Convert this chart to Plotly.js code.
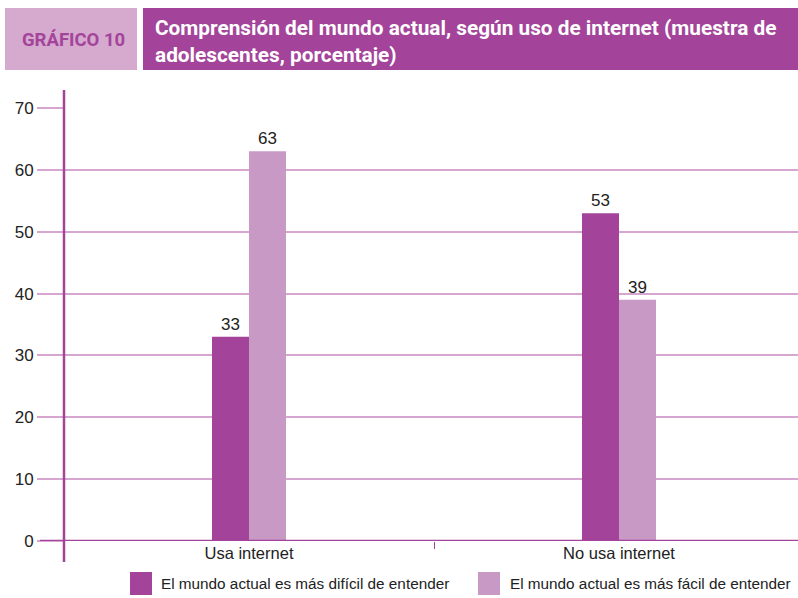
<!DOCTYPE html>
<html>
<head>
<meta charset="utf-8">
<script src="https://cdn.plot.ly/plotly-3.0.1.min.js"></script>
<style>html,body{margin:0;padding:0;background:#fff;}#chart{width:798px;height:598px;}</style>
</head>
<body>
<div id="chart"></div>
<script>
var categories = ["Usa internet", "No usa internet"];
var seriesNames = ["El mundo actual es más difícil de entender", "El mundo actual es más fácil de entender"];
var dificil = [33, 53];
var facil = [63, 39];
var yTicks = [0, 10, 20, 30, 40, 50, 60, 70];
var chartLabel = "GRÁFICO 10";
var chartTitle = "Comprensión del mundo actual, según uso de internet (muestra de<br>adolescentes, porcentaje)";

var DARK = "#a3449a", LIGHT = "#c999c6", GRID = "#d6a6d0";
var W = 798, H = 598, L = 64, R = 0, T = 108, B = 57;
var pw = W - L - R, ph = H - T - B;
function px(x) { return (x - L) / pw; }
function py(y) { return (H - B - y) / ph; }
var FONT = "Liberation Sans, Arial, sans-serif";
var NARROW = "Roboto, sans-serif";

var traces = [
  {type: "bar", x: categories, y: dificil, name: seriesNames[0], marker: {color: DARK},
   text: dificil.map(String), textposition: "outside", cliponaxis: false,
   textfont: {family: FONT, size: 17, color: "#222"}, showlegend: false},
  {type: "bar", x: categories, y: facil, name: seriesNames[1], marker: {color: LIGHT},
   text: facil.map(String), textposition: "outside", cliponaxis: false,
   textfont: {family: FONT, size: 17, color: "#222"}, showlegend: false}
];

var shapes = [
  {type: "rect", xref: "paper", yref: "paper", x0: px(5), x1: px(137), y0: py(70), y1: py(8), fillcolor: "#d6a9cf", line: {width: 0}, layer: "above"},
  {type: "rect", xref: "paper", yref: "paper", x0: px(143), x1: px(798), y0: py(70), y1: py(8), fillcolor: DARK, line: {width: 0}, layer: "above"},
  {type: "line", xref: "paper", yref: "y", x0: px(40), x1: 1, y0: yTicks[3], y1: yTicks[3], line: {color: DARK, width: 1.2}, layer: "between"},
  {type: "line", xref: "paper", yref: "paper", x0: px(64), x1: px(64), y0: py(562), y1: py(90), line: {color: DARK, width: 2.5}, layer: "above"},
  {type: "line", xref: "paper", yref: "y", x0: px(40), x1: 1, y0: 0, y1: 0, line: {color: DARK, width: 2.5}, layer: "above"},
  {type: "rect", xref: "paper", yref: "paper", x0: px(130), x1: px(152), y0: py(595), y1: py(572), fillcolor: DARK, line: {width: 0}},
  {type: "rect", xref: "paper", yref: "paper", x0: px(478), x1: px(500), y0: py(595), y1: py(572), fillcolor: LIGHT, line: {width: 0}}
];

var annotations = [
  {xref: "paper", yref: "paper", x: px(73), y: py(40), text: "<b>" + chartLabel + "</b>", showarrow: false,
   xanchor: "center", yanchor: "middle", font: {family: NARROW, size: 18.5, color: DARK}},
  {xref: "paper", yref: "paper", x: px(153), y: py(41), text: "<b>" + chartTitle + "</b>", showarrow: false,
   xanchor: "left", yanchor: "middle", align: "left", font: {family: NARROW, size: 20.8, color: "#fff"}},
  {xref: "paper", yref: "paper", x: px(159), y: py(583), text: seriesNames[0], showarrow: false,
   xanchor: "left", yanchor: "middle", font: {family: FONT, size: 15.3, color: "#222"}},
  {xref: "paper", yref: "paper", x: px(508), y: py(583), text: seriesNames[1], showarrow: false,
   xanchor: "left", yanchor: "middle", font: {family: FONT, size: 15.3, color: "#222"}}
];

var layout = {
  width: W, height: H,
  margin: {l: L, r: R, t: T, b: B, pad: 0},
  paper_bgcolor: "#fff", plot_bgcolor: "#fff",
  barmode: "group", bargap: 0.8, bargroupgap: 0,
  showlegend: false,
  xaxis: {type: "category", range: [-0.5, -0.5 + pw / 370], showgrid: false, zeroline: false,
          showline: false, ticks: "outside", tickson: "boundaries", ticklen: 7, tickcolor: DARK, tickwidth: 1,
          tickfont: {family: FONT, size: 16.5, color: "#222"}, fixedrange: true},
  yaxis: {range: [0, 70], tickvals: yTicks, showgrid: true, gridcolor: GRID, gridwidth: 2, zeroline: false,
          showline: false, ticks: "outside", ticklen: 26, tickcolor: GRID, tickwidth: 2,
          tickfont: {family: FONT, size: 17, color: "#222"}, fixedrange: true},
  shapes: shapes,
  annotations: annotations
};

Plotly.newPlot("chart", traces, layout, {displayModeBar: false, staticPlot: true});
</script>
</body>
</html>
